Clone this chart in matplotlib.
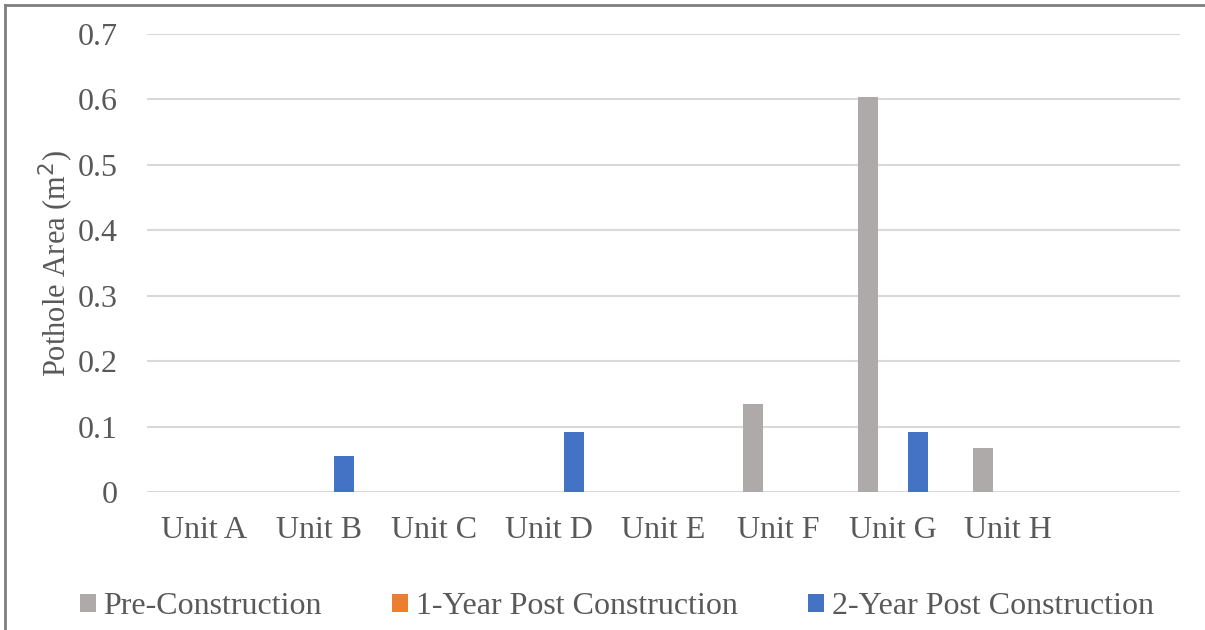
import numpy as np
import matplotlib.pyplot as plt
from matplotlib.lines import Line2D
from matplotlib.patches import Patch

units = ["Unit A", "Unit B", "Unit C", "Unit D", "Unit E", "Unit F", "Unit G", "Unit H"]
series_names = ["Pre-Construction", "1-Year Post Construction", "2-Year Post Construction"]
pre_construction = [0, 0, 0, 0, 0, 0.135, 0.604, 0.067]
one_year_post = [0, 0, 0, 0, 0, 0, 0, 0]
two_year_post = [0, 0.055, 0, 0.092, 0, 0, 0.092, 0]
colors = ["#AEAAAA", "#ED7D31", "#4472C4"]
text_color = "#595959"

plt.rcParams['font.family'] = ['Liberation Serif', 'DejaVu Serif']

fig = plt.figure(figsize=(12.05, 6.3), dpi=100)
ax = fig.add_axes([147 / 1205, 1 - 492 / 630, (1180 - 147) / 1205, (492 - 34) / 630])

x = np.arange(len(units))
width = 0.174
offset = 0.217
for i, (vals, name) in enumerate(zip([pre_construction, one_year_post, two_year_post], series_names)):
    ax.bar(x + (i - 1) * offset, vals, width, color=colors[i], label=name, zorder=3)

ax.set_xlim(-0.5, len(units) + 0.5)
ax.set_ylim(0, 0.7)
ax.set_yticks(np.arange(0, 0.71, 0.1))
ax.set_yticklabels(["0", "0.1", "0.2", "0.3", "0.4", "0.5", "0.6", "0.7"])
ax.set_xticks(x)
ax.set_xticklabels(units)
ax.yaxis.grid(True, color="#D9D9D9", linewidth=1.5, zorder=0)
ax.set_axisbelow(True)
for s in ax.spines.values():
    s.set_visible(False)
ax.tick_params(axis="both", length=0, labelsize=23, colors=text_color)
ax.tick_params(axis="x", pad=17)
ax.tick_params(axis="y", pad=21)
ax.set_ylabel("Pothole Area (m$^2$)", fontsize=22, color=text_color, labelpad=1)

handles = [Patch(facecolor=c, edgecolor="none") for c in colors]
fig.legend(handles, series_names, loc="center", bbox_to_anchor=(0.512, 1 - 607 / 630), ncol=3,
           frameon=False, fontsize=23, labelcolor=text_color, handlelength=0.5, handleheight=0.5,
           handletextpad=0.25, columnspacing=2.2)

fig.add_artist(Line2D([4.5 / 1205, 4.5 / 1205], [0, 1 - 4.5 / 630], color="#7F7F7F", linewidth=2))
fig.add_artist(Line2D([4.5 / 1205, 1], [1 - 4.5 / 630, 1 - 4.5 / 630], color="#7F7F7F", linewidth=2))

fig.savefig("out.png", dpi=100)
